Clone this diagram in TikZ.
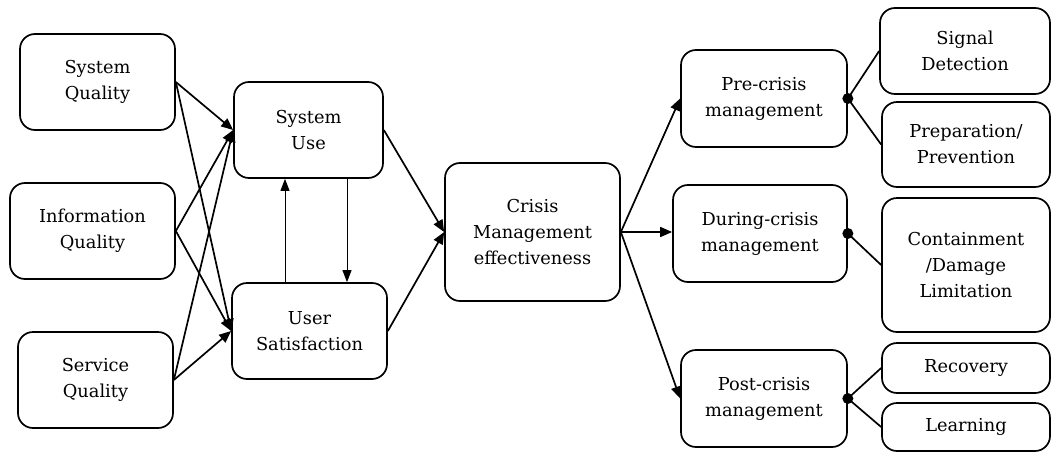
\documentclass[tikz,border=0pt]{standalone}
\usepackage{fontspec}
\setmainfont{DejaVu Serif}
\usetikzlibrary{arrows.meta,calc}
\begin{document}
\begin{tikzpicture}[x=1pt,y=-1pt,
  box/.style={draw,line width=1.7pt,rounded corners=15pt,align=center,
    font=\fontsize{17.8}{26}\selectfont,inner sep=2pt},
  arr/.style={line width=1.7pt,-{Triangle[length=12pt,width=10pt]}},
  thinarr/.style={line width=0.9pt,-{Triangle[length=12pt,width=9pt]}},
  link/.style={line width=1.7pt},
  dot/.style={fill=black}]
\useasboundingbox (0,0) rectangle (1051,452);
\clip (0,0) rectangle (1051,452);
\node[box,minimum width=155pt,minimum height=96pt] (sq) at (97.5,82) {System\\Quality};
\node[box,minimum width=165pt,minimum height=96pt] (iq) at (92.5,231) {Information\\Quality};
\node[box,minimum width=155pt,minimum height=96pt] (svq) at (95.5,380) {Service\\Quality};
\node[box,minimum width=149pt,minimum height=96pt] (su) at (308.5,130) {System\\Use};
\node[box,minimum width=155pt,minimum height=96pt] (us) at (309.5,331) {User\\Satisfaction};
\node[box,minimum width=175pt,minimum height=138pt] (cme) at (532.5,232) {Crisis\\Management\\effectiveness};
\node[box,minimum width=166pt,minimum height=97pt] (pre) at (764,98.5) {Pre-crisis\\management};
\node[box,minimum width=174pt,minimum height=97pt] (dur) at (760,233.5) {During-crisis\\management};
\node[box,minimum width=166pt,minimum height=97pt] (post) at (764,398.5) {Post-crisis\\management};
\node[box,minimum width=170pt,minimum height=86pt] (sig) at (965,51) {Signal\\Detection};
\node[box,minimum width=168pt,minimum height=85pt] (prep) at (966,144.5) {Preparation/\\Prevention};
\node[box,minimum width=168pt,minimum height=134pt] (cont) at (966,265) {Containment\\/Damage\\Limitation};
\node[box,minimum width=168pt,minimum height=50pt] (rec) at (966,368) {Recovery};
\node[box,minimum width=168pt,minimum height=48pt] (learn) at (966,427) {Learning};
% left arrows
\foreach \s in {sq,iq,svq}{
  \draw[arr] (\s.east) -- (su.west);
  \draw[arr] (\s.east) -- (us.west);
}
\draw[arr] (su.east) -- (cme.west);
\draw[arr] (us.east) -- (cme.west);
\coordinate (upx) at (285,0);
\coordinate (downx) at (347,0);
\draw[thinarr] (upx |- us.north) -- (upx |- su.south);
\draw[thinarr] (downx |- su.south) -- (downx |- us.north);
% right arrows
\draw[arr] (cme.east) -- (pre.west);
\draw[arr] (cme.east) -- (cme.east -| dur.west);
\draw[arr] (cme.east) -- (post.west);
% links
\draw[link] (pre.east) -- (sig.west);
\draw[link] (pre.east) -- (prep.west);
\draw[link] (dur.east) -- (cont.west);
\draw[link] (post.east) -- (rec.west);
\draw[link] (post.east) -- (learn.west);
\fill[dot] (pre.east) circle (5.5pt);
\fill[dot] (dur.east) circle (5.5pt);
\fill[dot] (post.east) circle (5.5pt);
\end{tikzpicture}
\end{document}
